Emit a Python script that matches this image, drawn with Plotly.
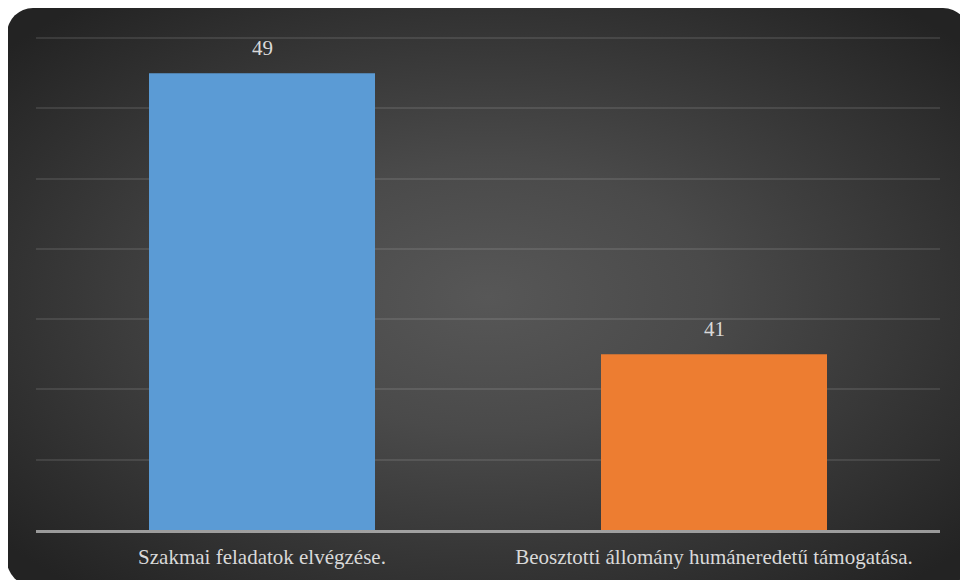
import base64
import plotly.graph_objects as go

categories = ['Szakmai feladatok elvégzése.', 'Beosztotti állomány humáneredetű támogatása.']
values = [49, 41]
bar_colors = ['#5b9bd5', '#ed7d31']

W, H = 968, 580
L, R, T, B = 28, 36, 29, 58
plot_w = W - L - R
plot_h = H - T - B

# dunkler Hintergrund mit radialem Verlauf und runden Ecken (als SVG-Bild)
bg_x0, bg_y0, bg_w, bg_h = -1, 0, 962, 578
svg = f'''<svg xmlns="http://www.w3.org/2000/svg" width="{bg_w}" height="{bg_h}" viewBox="0 0 {bg_w} {bg_h}">
<defs><radialGradient id="g" cx="0.5" cy="0.5" r="0.66">
<stop offset="0" stop-color="#575757"/><stop offset="0.35" stop-color="#4a4a4a"/><stop offset="1" stop-color="#232323"/>
</radialGradient></defs>
<rect x="0" y="0" width="{bg_w}" height="{bg_h}" rx="26" ry="26" fill="url(#g)"/>
</svg>'''
bg_src = 'data:image/svg+xml;base64,' + base64.b64encode(svg.encode()).decode()

fig = go.Figure()
fig.add_trace(go.Bar(
    x=categories,
    y=values,
    marker=dict(color=bar_colors, line=dict(width=0)),
    hoverinfo='x+y',
))

for cat, val in zip(categories, values):
    fig.add_annotation(
        x=cat, y=val, text=str(val), showarrow=False,
        yanchor='middle', yshift=25,
        font=dict(family='Liberation Serif', size=21, color='#d9d9d9'),
    )

fig.add_layout_image(
    source=bg_src,
    xref='paper', yref='paper',
    x=(bg_x0 - L) / plot_w, y=(H - B - bg_y0) / plot_h,
    sizex=bg_w / plot_w, sizey=bg_h / plot_h,
    xanchor='left', yanchor='top',
    sizing='stretch', layer='below',
)

fig.update_layout(
    width=W, height=H,
    margin=dict(l=L, r=R, t=T, b=B),
    paper_bgcolor='white',
    plot_bgcolor='rgba(0,0,0,0)',
    bargap=0.5,
    showlegend=False,
    font=dict(family='Liberation Serif', color='#d9d9d9'),
)
fig.update_xaxes(
    showgrid=False,
    showline=True, linecolor='rgba(217,217,217,0.65)', linewidth=2.5,
    ticks='outside', ticklen=6, tickcolor='rgba(0,0,0,0)',
    tickfont=dict(family='Liberation Serif', size=21, color='#d9d9d9'),
)
fig.update_yaxes(
    range=[36, 50.03], dtick=2,
    showticklabels=False, zeroline=False,
    showgrid=True, gridcolor='rgba(255,255,255,0.10)', gridwidth=2,
)

fig.write_html('out.html')
